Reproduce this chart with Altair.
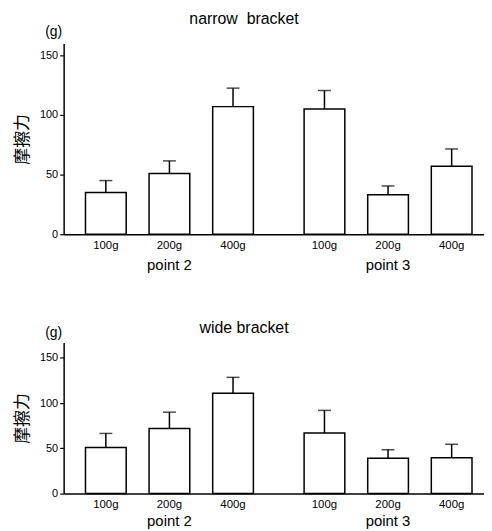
import altair as alt
import pandas as pd

loads = ["100g", "200g", "400g"]
points = ["point 2", "point 3"]
narrow_mean = [35, 51, 107, 105, 33, 57]
narrow_sd = [10, 10.5, 15.5, 15.5, 7.5, 14.5]
wide_mean = [51, 72, 111, 67, 39, 39.5]
wide_sd = [15.5, 18, 17.5, 25, 9.5, 15]
y_ticks = [0, 50, 100, 150]


def frame(means, sds):
    rows = []
    i = 0
    for p in points:
        for l in loads:
            rows.append({"point": p, "load": l, "mean": means[i], "top": means[i] + sds[i]})
            i += 1
    return pd.DataFrame(rows)


def panel(df, title, ymax, height, toffset, gy, lpad):
    x = alt.X(
        "point:N", sort=points, title=None,
        scale=alt.Scale(paddingInner=0.1273, paddingOuter=0.025, align=0.95),
        axis=alt.Axis(labelAngle=0, ticks=False, tickSize=0, labelPadding=lpad,
                      labelFontSize=15, domainColor="black", domainWidth=1.5,
                      labelColor="black"),
    )
    xo = alt.XOffset("load:N", sort=loads,
                     scale=alt.Scale(paddingInner=0.36, paddingOuter=0.18))
    y = alt.Y(
        "mean:Q", title="摩擦力",
        scale=alt.Scale(domain=[0, ymax], nice=False, zero=True),
        axis=alt.Axis(values=y_ticks, grid=False, tickSize=4, tickColor="black",
                      tickWidth=1.2, labelPadding=2, labelFontSize=11,
                      labelColor="black", domainColor="black", domainWidth=1.5,
                      titleFont="Noto Sans CJK JP", titleFontSize=17,
                      titleFontWeight="normal", titleColor="black",
                      titlePadding=8),
    )
    base = alt.Chart(df)
    bars = base.mark_bar(fill="white", stroke="black", strokeWidth=1.5).encode(
        x=x, xOffset=xo, y=y)
    rule = base.mark_rule(color="black", strokeWidth=1.5).encode(
        x=x, xOffset=xo, y="mean:Q", y2="top:Q")
    cap = base.mark_tick(color="black", thickness=1.5, size=13).encode(
        x=x, xOffset=xo, y="top:Q")
    lab = base.mark_text(baseline="top", dy=6, fontSize=11.5, color="black").encode(
        x=x, xOffset=xo, y=alt.datum(0), text="load:N")
    unit = alt.Chart(pd.DataFrame({"u": ["(g)"]})).mark_text(
        fontSize=14, color="black").encode(
        text="u:N", x=alt.value(-10), y=alt.value(gy))
    return alt.layer(bars, rule, cap, lab, unit).properties(
        width=423, height=height,
        title=alt.TitleParams(title, fontSize=16, fontWeight="normal", dx=-30,
                              anchor="middle", color="black", offset=toffset),
    )


top = panel(frame(narrow_mean, narrow_sd), "narrow\u00a0\u00a0bracket", 160, 192, -1, -11, 24)
bottom = panel(frame(wide_mean, wide_sd), "wide bracket", 167, 152, -10, -10, 20)

chart = alt.vconcat(top, bottom, spacing=47).properties(
    padding={"left": 5, "top": 1, "right": 0, "bottom": 0}
).configure(font="Liberation Sans").configure_view(stroke=None)

chart.save("out.html", embed_options={"renderer": "svg", "actions": False})
